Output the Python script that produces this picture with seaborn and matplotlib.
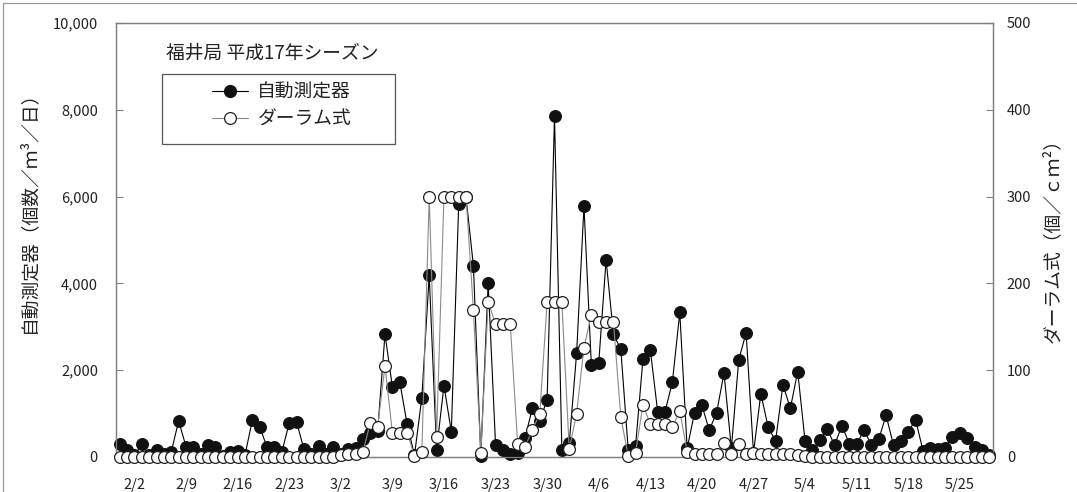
import numpy as np
import pandas as pd
import matplotlib
matplotlib.use("Agg")
import matplotlib.pyplot as plt
from matplotlib.ticker import FixedLocator, FuncFormatter
from matplotlib.lines import Line2D
from matplotlib.patches import Rectangle
import seaborn as sns

# Daily pollen counts, Fukui station, 2005 season (1/31 - 5/29)
dates = pd.date_range("2005-01-31", "2005-05-29", freq="D")

# automatic sampler, grains / m3 / day (left axis)
auto_counts = [
    290, 160, 40, 290, 50, 150, 60, 120, 830, 240,
    220, 60, 270, 220, 30, 110, 140, 40, 850, 700,
    220, 230, 110, 780, 810, 180, 60, 260, 70, 220,
    80, 190, 210, 420, 550, 590, 2830, 1620, 1735, 760,
    40, 1370, 4190, 160, 1645, 585, 5820, 5980, 4400, 20,
    4020, 285, 150, 80, 85, 430, 1130, 830, 1320, 7860,
    160, 315, 2390, 5780, 2120, 2165, 4540, 2830, 2480, 170,
    260, 2250, 2470, 1040, 1040, 1735, 3330, 200, 1020, 1190,
    620, 1020, 1935, 200, 2240, 2860, 100, 1460, 680, 370,
    1665, 1120, 1965, 370, 150, 400, 640, 280, 720, 310,
    290, 625, 275, 415, 960, 265, 380, 580, 860, 145,
    200, 185, 215, 470, 545, 430, 220, 165, 40,
]

# Durham sampler, grains / cm2 (right axis)
durham_counts = [
    0, 0, 0, 0, 0, 0, 0, 0, 0, 0,
    0, 0, 0, 0, 0, 0, 0, 0, 0, 0,
    0, 0, 0, 0, 0, 0, 0, 0, 0, 0,
    2, 3, 4, 6, 39, 35, 105, 28, 28, 28,
    1, 6, 300, 23, 300, 300, 300, 300, 169, 5,
    179, 153, 153, 153, 15, 12, 31, 50, 178, 178,
    178, 9, 50, 126, 164, 155, 155, 155, 46, 1,
    5, 60, 38, 38, 38, 35, 53, 6, 4, 4,
    4, 4, 16, 3, 15, 4, 5, 4, 4, 3,
    3, 3, 2, 1, 0, 0, 0, 0, 0, 0,
    0, 0, 0, 0, 0, 0, 0, 0, 0, 0,
    0, 0, 0, 0, 0, 0, 0, 0, 0,
]

tick_labels = ["2/2", "2/9", "2/16", "2/23", "3/2", "3/9", "3/16", "3/23",
               "3/30", "4/6", "4/13", "4/20", "4/27", "5/4", "5/11", "5/18", "5/25"]

series_names = ["自動測定器", "ダーラム式"]
title_text = "福井局 平成17年シーズン"
left_label = "自動測定器（個数／ｍ³／日）"
right_label = "ダーラム式（個／ｃｍ²）"

df = pd.DataFrame({
    "day": np.arange(len(dates)),
    "date": dates,
    "auto": auto_counts,
    "durham": durham_counts,
})
label_pos = [int(np.where(df["date"].dt.strftime("%-m/%-d") == t)[0][0]) for t in tick_labels]

sns.set_style("white")
plt.rcParams["font.family"] = ["Noto Sans CJK JP", "DejaVu Sans"]
plt.rcParams["text.color"] = "#222222"
plt.rcParams["axes.labelcolor"] = "#222222"
plt.rcParams["xtick.color"] = "#222222"
plt.rcParams["ytick.color"] = "#222222"

W, H = 1077, 492
fig = plt.figure(figsize=(W / 100, H / 100), dpi=100)
ax = fig.add_axes([116 / W, 35 / H, 877 / W, 434 / H])
ax2 = ax.twinx()

spine_col = "#808080"

sns.lineplot(data=df, x="day", y="auto", ax=ax, color="black", linewidth=0.8,
             marker="o", markersize=8.5, markerfacecolor="#111111",
             markeredgecolor="#111111", markeredgewidth=0.8, clip_on=False,
             errorbar=None, legend=False, zorder=3)
sns.lineplot(data=df, x="day", y="durham", ax=ax2, color="#8a8a8a", linewidth=0.8,
             marker="o", markersize=8.5, markerfacecolor="white",
             markeredgecolor="#222222", markeredgewidth=0.9, clip_on=False,
             errorbar=None, legend=False, zorder=3)

n = len(df)
ax.set_xlim(-0.5, n - 0.5)
ax.set_ylim(0, 10000)
ax2.set_ylim(0, 500)

ax.xaxis.set_major_locator(FixedLocator(label_pos))
ax.set_xticklabels(tick_labels)
ax.xaxis.set_minor_locator(FixedLocator(np.arange(-0.5, n, 7)))
ax.tick_params(axis="x", which="major", length=0, pad=15, labelsize=10.5)
ax.tick_params(axis="x", which="minor", direction="in", length=5, width=0.8, color=spine_col)

ax.set_yticks(np.arange(0, 10001, 2000))
ax.yaxis.set_major_formatter(FuncFormatter(lambda v, p: f"{v:,.0f}"))
ax.tick_params(axis="y", direction="in", length=5, width=0.8, color=spine_col,
               pad=13, labelsize=10.5)
ax2.set_yticks(np.arange(0, 501, 100))
ax2.tick_params(axis="y", direction="in", length=5, width=0.8, color=spine_col,
                pad=10, labelsize=10.5)

for a in (ax, ax2):
    for s in a.spines.values():
        s.set_color(spine_col)
        s.set_linewidth(0.9)
    a.grid(False)

ax.set_xlabel("")
ax.set_ylabel(left_label, fontsize=13.5)
ax.yaxis.set_label_coords(-0.088, 0.575)
ax2.set_ylabel(right_label, fontsize=13.5, rotation=90)
ax2.yaxis.set_label_coords(1.056, 0.51)

ax2.text(0.057, 0.931, title_text, transform=ax2.transAxes, ha="left",
         va="center", fontsize=13.5)

# legend frame and entries
ax2.add_patch(Rectangle((0.0525, 0.721), 0.2655, 0.1615, transform=ax2.transAxes,
                        fill=False, edgecolor="#555555", linewidth=0.9, zorder=4))
handles = [
    Line2D([], [], color="black", linewidth=0.8, marker="o", markersize=8.5,
           markerfacecolor="#111111", markeredgecolor="#111111"),
    Line2D([], [], color="#8a8a8a", linewidth=0.8, marker="o", markersize=8.5,
           markerfacecolor="white", markeredgecolor="#222222", markeredgewidth=0.9),
]
ax2.legend(handles, series_names, frameon=False, loc="upper left",
           bbox_to_anchor=(0.1095, 0.865), borderpad=0, borderaxespad=0,
           handlelength=1.92, handletextpad=0.5, labelspacing=0.32, fontsize=13.5)

# outer frame of the figure
fig.add_artist(Line2D([3 / W, 1.0], [1 - 3 / H, 1 - 3 / H], transform=fig.transFigure,
                      color="#999999", linewidth=0.9))
fig.add_artist(Line2D([3 / W, 3 / W], [0, 1 - 3 / H], transform=fig.transFigure,
                      color="#999999", linewidth=0.9))

fig.savefig("out.png", dpi=100)
